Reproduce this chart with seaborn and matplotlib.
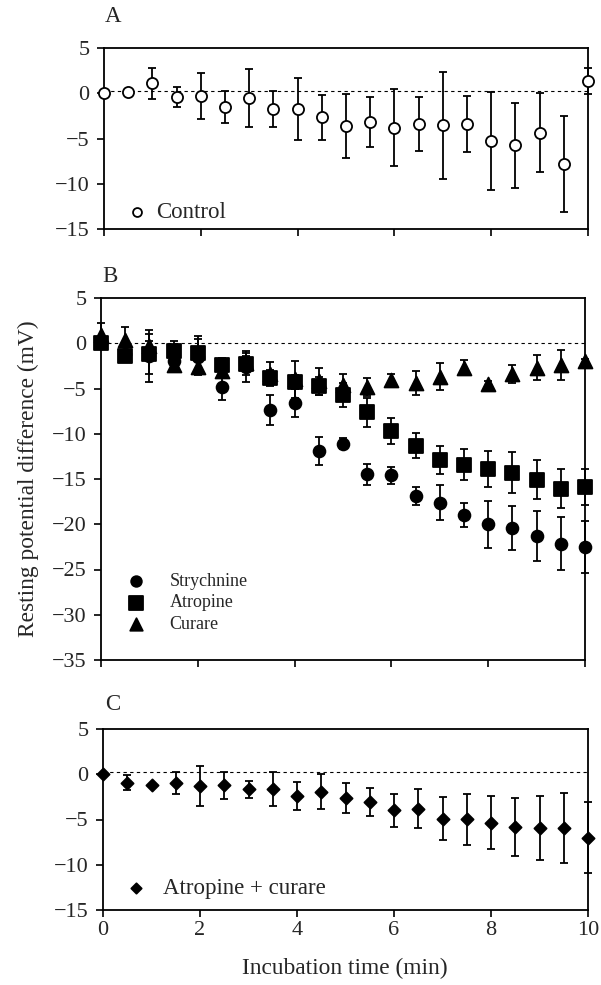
import numpy as np
import matplotlib
matplotlib.use("Agg")
import matplotlib.pyplot as plt
import seaborn as sns

# incubation time (min)
time = [0, 0.5, 1, 1.5, 2, 2.5, 3, 3.5, 4, 4.5, 5, 5.5, 6, 6.5, 7, 7.5, 8, 8.5, 9, 9.5, 10]

# panel A - control
control = [0.0, 0.15, 1.1, -0.4, -0.3, -1.5, -0.55, -1.75, -1.75, -2.65, -3.6,
           -3.15, -3.8, -3.4, -3.55, -3.4, -5.25, -5.75, -4.35, -7.85, 1.35]
control_err = [0.0, 0.3, 1.7, 1.1, 2.55, 1.8, 3.2, 2.0, 3.4, 2.5, 3.55,
               2.75, 4.25, 3.0, 5.9, 3.1, 5.4, 4.7, 4.4, 5.3, 1.4]

# panel B
strychnine = [0.0, -1.2, -1.4, -2.0, -1.5, -4.8, -2.6, -7.4, -6.6, -11.9, -11.1,
              -14.5, -14.6, -16.9, -17.6, -19.0, -20.0, -20.4, -21.3, -22.15, -22.5]
strychnine_err = [0.3, 0.5, 2.9, 1.1, 2.0, 1.5, 1.7, 1.65, 1.5, 1.55, 0.6,
                  1.15, 0.95, 1.0, 1.9, 1.3, 2.6, 2.4, 2.8, 2.95, 2.9]
atropine = [0.0, -1.4, -1.2, -0.9, -1.1, -2.4, -2.3, -3.8, -4.3, -4.7, -5.7,
            -7.6, -9.7, -11.3, -12.9, -13.4, -13.9, -14.3, -15.1, -16.1, -15.9]
atropine_err = [0.3, 0.4, 2.2, 1.1, 1.9, 0.8, 1.2, 0.8, 0.8, 1.0, 1.3,
                1.6, 1.4, 1.35, 1.55, 1.75, 2.0, 2.3, 2.15, 2.15, 2.0]
curare = [0.9, 0.4, -0.3, -2.4, -2.65, -3.1, -2.2, -3.4, -4.0, -4.2, -4.6,
          -4.8, -4.06, -4.4, -3.7, -2.7, -4.5, -3.4, -2.7, -2.4, -2.0]
curare_err = [1.3, 1.35, 0.5, 0.7, 0.8, 0.6, 0.8, 1.3, 2.0, 1.5, 1.2,
              1.0, 0.7, 1.3, 1.5, 0.8, 0.3, 0.95, 1.35, 1.7, 0.3]

# panel C - atropine + curare
combo = [0.0, -0.92, -1.21, -0.99, -1.29, -1.21, -1.66, -1.66, -2.4, -1.92, -2.65,
         -3.06, -3.98, -3.79, -4.9, -4.97, -5.34, -5.82, -5.93, -5.93, -7.0]
combo_err = [0.0, 0.85, 0.15, 1.2, 2.25, 1.5, 0.95, 1.9, 1.55, 1.9, 1.65,
             1.5, 1.8, 2.2, 2.35, 2.8, 2.95, 3.2, 3.5, 3.9, 3.9]

W, H = 601, 985

sns.set_style("ticks")
plt.rcParams['font.family'] = ['Liberation Serif', 'DejaVu Serif']
plt.rcParams['font.size'] = 16

fig = plt.figure(figsize=(W / 100, H / 100), dpi=100)


def box(left, top, right, bottom):
    return [left / W, 1 - bottom / H, (right - left) / W, (bottom - top) / H]


axA = fig.add_axes(box(104, 48, 588, 229))
axB = fig.add_axes(box(101, 298, 585, 660))
axC = fig.add_axes(box(103, 729, 588, 910))


def series(ax, y, err, marker, ms, label, face='black'):
    ax.errorbar(time, y, yerr=err, fmt='none', ecolor='black', elinewidth=1.3,
                capsize=3, capthick=1.3, clip_on=False, zorder=3)
    sns.scatterplot(x=time, y=y, ax=ax, marker=marker, s=ms ** 2, color=face,
                    edgecolor='black', linewidth=1.3, label=label, clip_on=False,
                    zorder=4)


def style(ax, ylim, yticks, zero=0.0):
    ax.axhline(zero, color='black', lw=0.8, ls=(0, (3, 3)), zorder=1)
    ax.set_xlim(0, 10)
    ax.set_ylim(*ylim)
    ax.set_yticks(yticks)
    ax.set_xticks([0, 2, 4, 6, 8, 10])
    ax.tick_params(direction='out', length=5, width=1.2, labelsize=16, pad=3,
                   color='black')
    ax.tick_params(axis='y', pad=5.5)
    for s in ax.spines.values():
        s.set_linewidth(1.3)
        s.set_color('black')
    ax.set_xlabel('')
    ax.set_ylabel('')


# panel A
series(axA, control, control_err, 'o', 8.0, 'Control', face='white')
style(axA, (-15, 5), [5, 0, -5, -10, -15], zero=0.3)
axA.tick_params(axis='x', labelbottom=False)
axA.legend(loc='center left', bbox_to_anchor=(0.05, 0.09), frameon=False,
           fontsize=16.5, handlelength=0.8, handletextpad=0.4, borderpad=0,
           borderaxespad=0, markerscale=0.8)

# panel B
series(axB, strychnine, strychnine_err, 'o', 8.5, 'Strychnine')
series(axB, curare, curare_err, '^', 10, 'Curare')
series(axB, atropine, atropine_err, 's', 10.5, 'Atropine')
style(axB, (-35, 5), [5, 0, -5, -10, -15, -20, -25, -30, -35])
axB.tick_params(axis='x', labelbottom=False)
h, l = axB.get_legend_handles_labels()
order = [l.index('Strychnine'), l.index('Atropine'), l.index('Curare')]
axB.legend([h[i] for i in order], [l[i] for i in order], loc='center left',
           bbox_to_anchor=(0.05, 0.158), frameon=False, fontsize=13,
           handlelength=1.15, handletextpad=1.3, borderpad=0, borderaxespad=0,
           labelspacing=0.25, markerscale=0.9)

# panel C
series(axC, combo, combo_err, 'D', 6.2, 'Atropine + curare')
style(axC, (-15, 5), [5, 0, -5, -10, -15], zero=0.2)
axC.legend(loc='center left', bbox_to_anchor=(0.05, 0.12), frameon=False,
           fontsize=16.5, handlelength=0.8, handletextpad=0.75, borderpad=0,
           borderaxespad=0, markerscale=0.85)

fig.text(113 / W, 1 - 17 / H, 'A', ha='center', va='center', fontsize=16.5)
fig.text(110 / W, 1 - 276 / H, 'B', ha='center', va='center', fontsize=16.5)
fig.text(113 / W, 1 - 704 / H, 'C', ha='center', va='center', fontsize=16.5)
fig.text(28 / W, 1 - 479 / H, 'Resting potential difference (mV)', rotation=90,
         ha='center', va='center', fontsize=16.8)
fig.text(345 / W, 1 - 968 / H, 'Incubation time (min)', ha='center', va='center',
         fontsize=16.8)

fig.savefig('out.png', dpi=100)
